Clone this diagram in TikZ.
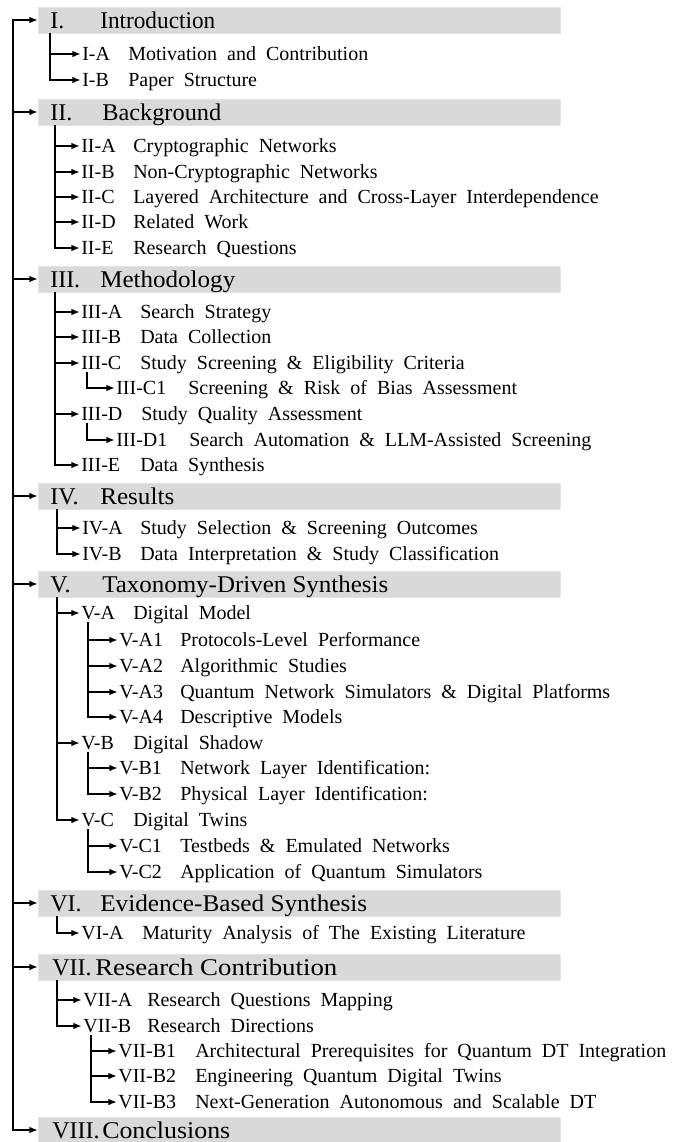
\documentclass[tikz,border=0pt]{standalone}
\usepackage{fontspec}
\usepackage{graphicx}
\setmainfont{Liberation Serif}
\usetikzlibrary{arrows.meta}

\definecolor{barfill}{HTML}{D9D9D9}
\definecolor{baredge}{HTML}{E4E4E4}

\newdimen\pxu \pxu=0.75pt
% one grey section bar with its numeral and title (title set to a given width)
\newcommand\secbarrow[7]{%
  \node[secbar] (#1) at (38,#2) {};
  \node[secnum] (#1n) at (#3,#2+1) {#5};
  \node[sectitle] (#1t) at (#1n.base -| #4,0) {\resizebox{#7\pxu}{\height}{#6}};
}
% one outline item: label and title on a common baseline
\newcommand\outlineitem[6]{%
  \node[lab] (#1) at (#3,#2) {#5};
  \node[ttl] (#1t) at (#1.base -| #4,0) {#6};
}
\newcommand\widespaces{\spaceskip=0.5em\relax}

\begin{document}
\begin{tikzpicture}[x=0.75pt,y=-0.75pt,
  secbar/.style={fill=barfill, draw=baredge, line width=0.6pt,
    minimum width=391.5pt, minimum height=19.5pt, inner sep=0pt, anchor=west},
  secnum/.style={font=\fontsize{18}{21}\selectfont, inner sep=0pt, anchor=west},
  sectitle/.style={font=\fontsize{18}{21}\selectfont, inner sep=0pt, anchor=base west},
  lab/.style={font=\fontsize{15}{18}\selectfont, inner xsep=0.8pt, inner ysep=1.5pt, anchor=west},
  ttl/.style={font=\fontsize{15}{18}\selectfont\widespaces, inner sep=0pt, anchor=base west},
  arr/.style={line width=1.45pt, -{Latex[length=6.5pt,width=5pt]}},
]
\useasboundingbox (0,0) rectangle (681,1142);

% ---- section bars ----
\secbarrow{s1}{20}{50}{100}{I.}{Introduction}{115}
\secbarrow{s2}{112}{50}{102}{II.}{Background}{119}
\secbarrow{s3}{279}{50}{100}{III.}{Methodology}{135}
\secbarrow{s4}{496}{50}{100}{IV.}{Results}{74}
\secbarrow{s5}{584}{50}{102}{V.}{Taxonomy-Driven Synthesis}{286}
\secbarrow{s6}{903}{50}{100}{VI.}{Evidence-Based Synthesis}{267}
\secbarrow{s7}{967}{52}{95}{VII.}{Research Contribution}{242}
\secbarrow{s8}{1130}{52}{102}{VIII.}{Conclusions}{128}

% ---- items ----
\outlineitem{c1a}{54}{81}{128}{I-A}{Motivation and Contribution}
\outlineitem{c1b}{80}{81}{128}{I-B}{Paper Structure}

\outlineitem{c2a}{146}{80}{133}{II-A}{Cryptographic Networks}
\outlineitem{c2b}{172}{80}{133}{II-B}{Non-Cryptographic Networks}
\outlineitem{c2c}{197}{80}{133}{II-C}{Layered Architecture and Cross-Layer Interdependence}
\outlineitem{c2d}{222}{80}{133}{II-D}{Related Work}
\outlineitem{c2e}{248}{80}{133}{II-E}{Research Questions}

\outlineitem{c3a}{312}{80}{140}{III-A}{Search Strategy}
\outlineitem{c3b}{337}{80}{140}{III-B}{Data Collection}
\outlineitem{c3c}{363}{80}{140}{III-C}{Study Screening \& Eligibility Criteria}
\outlineitem{c3c1}{388}{115}{188}{III-C1}{Screening \& Risk of Bias Assessment}
\outlineitem{c3d}{414}{80}{141}{III-D}{Study Quality Assessment}
\outlineitem{c3d1}{440}{115}{189}{III-D1}{Search Automation \& LLM-Assisted Screening}
\outlineitem{c3e}{465}{80}{140}{III-E}{Data Synthesis}

\outlineitem{c4a}{528}{81}{140}{IV-A}{Study Selection \& Screening Outcomes}
\outlineitem{c4b}{554}{81}{140}{IV-B}{Data Interpretation \& Study Classification}

\outlineitem{c5a}{613}{80}{133}{V-A}{Digital Model}
\outlineitem{c5a1}{640}{118}{180}{V-A1}{Protocols-Level Performance}
\outlineitem{c5a2}{666}{118}{180}{V-A2}{Algorithmic Studies}
\outlineitem{c5a3}{692}{118}{180}{V-A3}{Quantum Network Simulators \& Digital Platforms}
\outlineitem{c5a4}{717}{118}{180}{V-A4}{Descriptive Models}
\outlineitem{c5b}{743}{80}{133}{V-B}{Digital Shadow}
\outlineitem{c5b1}{768}{118}{180}{V-B1}{Network Layer Identification:}
\outlineitem{c5b2}{794}{118}{180}{V-B2}{Physical Layer Identification:}
\outlineitem{c5c}{820}{80}{133}{V-C}{Digital Twins}
\outlineitem{c5c1}{846}{118}{180}{V-C1}{Testbeds \& Emulated Networks}
\outlineitem{c5c2}{872}{118}{180}{V-C2}{Application of Quantum Simulators}

\outlineitem{c6a}{933}{80}{142}{VI-A}{Maturity Analysis of The Existing Literature}

\outlineitem{c7a}{1000}{82}{147}{VII-A}{Research Questions Mapping}
\outlineitem{c7b}{1026}{82}{147}{VII-B}{Research Directions}
\outlineitem{c7b1}{1051}{117}{195}{VII-B1}{Architectural Prerequisites for Quantum DT Integration}
\outlineitem{c7b2}{1076}{117}{195}{VII-B2}{Engineering Quantum Digital Twins}
\outlineitem{c7b3}{1102}{117}{195}{VII-B3}{Next-Generation Autonomous and Scalable DT}

% ---- rails for the connectors ----
\coordinate (trunk) at (13,0);
\coordinate (g1) at (50,0);
\coordinate (g2) at (55,0);
\coordinate (g3) at (55,0);
\coordinate (g3c) at (87,0);
\coordinate (g3d) at (87,0);
\coordinate (g4) at (57,0);
\coordinate (g5) at (57,0);
\coordinate (g5a) at (88,0);
\coordinate (g5b) at (88,0);
\coordinate (g5c) at (88,0);
\coordinate (g6) at (57,0);
\coordinate (g7) at (57,0);
\coordinate (g7b) at (91,0);

% ---- main trunk ----
\draw[arr] (trunk |- s4.west) -- (trunk |- s1.west) -- (s1.west);
\draw[arr] (trunk |- s4.west) |- (s8.west);
\foreach \s in {s2,s3,s4,s5,s6,s7}
  \draw[arr] (trunk |- \s.west) -- (\s.west);

% ---- second level ----
\draw[arr] (g1 |- s1.south) |- (c1b.west);
\draw[arr] (g1 |- c1a.west) -- (c1a.west);

\draw[arr] (g2 |- s2.south) |- (c2e.west);
\foreach \c in {c2a,c2b,c2c,c2d}
  \draw[arr] (g2 |- \c.west) -- (\c.west);

\draw[arr] (g3 |- s3.south) |- (c3e.west);
\foreach \c in {c3a,c3b,c3c,c3d}
  \draw[arr] (g3 |- \c.west) -- (\c.west);

\draw[arr] (g4 |- s4.south) |- (c4b.west);
\draw[arr] (g4 |- c4a.west) -- (c4a.west);

\draw[arr] (g5 |- s5.south) |- (c5c.west);
\foreach \c in {c5a,c5b}
  \draw[arr] (g5 |- \c.west) -- (\c.west);

\draw[arr] (g6 |- s6.south) |- (c6a.west);

\draw[arr] (g7 |- s7.south) |- (c7b.west);
\draw[arr] (g7 |- c7a.west) -- (c7a.west);

% ---- third level ----
\draw[arr] (g3c |- c3c.south) |- (c3c1.west);
\draw[arr] (g3d |- c3d.south) |- (c3d1.west);

\draw[arr] (g5a |- c5a.south) |- (c5a4.west);
\foreach \c in {c5a1,c5a2,c5a3}
  \draw[arr] (g5a |- \c.west) -- (\c.west);

\draw[arr] (g5b |- c5b.south) |- (c5b2.west);
\draw[arr] (g5b |- c5b1.west) -- (c5b1.west);

\draw[arr] (g5c |- c5c.south) |- (c5c2.west);
\draw[arr] (g5c |- c5c1.west) -- (c5c1.west);

\draw[arr] (g7b |- c7b.south) |- (c7b3.west);
\foreach \c in {c7b1,c7b2}
  \draw[arr] (g7b |- \c.west) -- (\c.west);
\end{tikzpicture}
\end{document}
